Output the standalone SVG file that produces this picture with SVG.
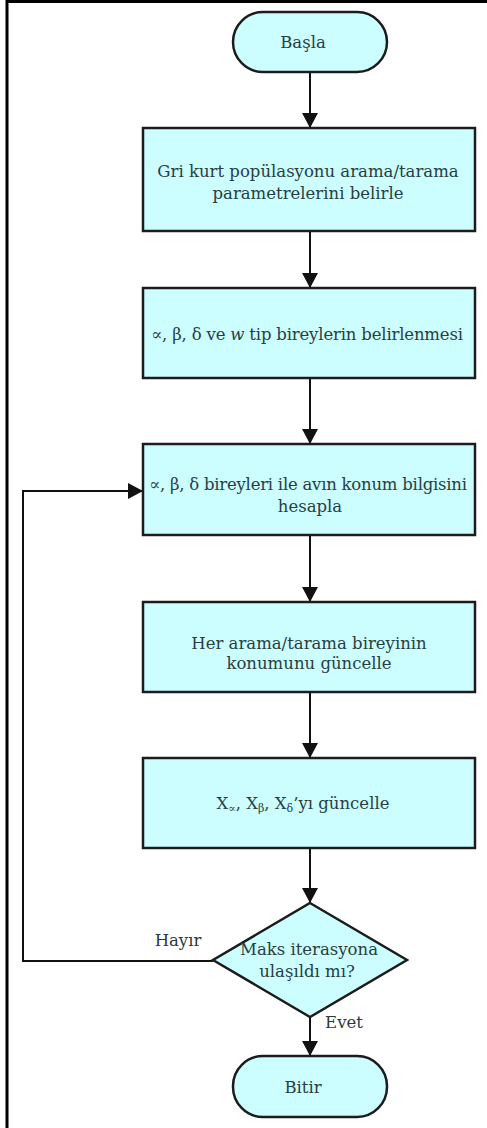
<svg xmlns="http://www.w3.org/2000/svg" width="487" height="1128" viewBox="0 0 487 1128">
<style>
.node{fill:#ccfdff;stroke:#1c1c1c;stroke-width:2.5}
.t{font-family:"DejaVu Serif","Liberation Serif",serif;font-size:16.5px;fill:#27403f;text-anchor:middle}
.lbl{font-family:"DejaVu Serif","Liberation Serif",serif;font-size:16.5px;fill:#2b3a3c;text-anchor:middle}
.c{fill:none;stroke:#111;stroke-width:2}
.sub{font-size:11px}
</style>
<defs>
<marker id="ah" markerUnits="userSpaceOnUse" markerWidth="17" markerHeight="17" refX="15" refY="8" orient="auto">
<path d="M0,0 L15,8 L0,16 Z" fill="#111"/>
</marker>
</defs>
<rect width="487" height="1128" fill="#fff"/>
<g id="frame">
<line x1="7" y1="0" x2="7" y2="1128" stroke="#000" stroke-width="3"/>
<line x1="7" y1="1.5" x2="487" y2="1.5" stroke="#000" stroke-width="3"/>
</g>
<g id="connectors">
<line class="c" x1="310" y1="72" x2="310" y2="128" marker-end="url(#ah)"/>
<line class="c" x1="310" y1="231" x2="310" y2="288" marker-end="url(#ah)"/>
<line class="c" x1="310" y1="378" x2="310" y2="444" marker-end="url(#ah)"/>
<line class="c" x1="310" y1="535" x2="310" y2="602" marker-end="url(#ah)"/>
<line class="c" x1="310" y1="692" x2="310" y2="758" marker-end="url(#ah)"/>
<line class="c" x1="310" y1="848" x2="310" y2="903" marker-end="url(#ah)"/>
<line class="c" x1="310" y1="1017" x2="310" y2="1056" marker-end="url(#ah)"/>
<polyline class="c" points="213,961 23,961 23,491 143,491" marker-end="url(#ah)"/>
<text class="lbl" x="178" y="946">Hayır</text>
<text class="lbl" x="344" y="1028">Evet</text>
</g>
<g id="start">
<rect class="node" x="233" y="12" width="154" height="60" rx="30" ry="30"/>
<text class="t" x="303" y="48">Başla</text>
</g>
<g id="n1">
<rect class="node" x="143" y="128" width="332" height="103"/>
<text class="t" x="308" y="177">Gri kurt popülasyonu arama/tarama</text>
<text class="t" x="308" y="199">parametrelerini belirle</text>
</g>
<g id="n2">
<rect class="node" x="143" y="288" width="332" height="90"/>
<text class="t" x="307" y="340" textLength="312" lengthAdjust="spacing">∝, β, δ ve <tspan font-style="italic">w</tspan> tip bireylerin belirlenmesi</text>
</g>
<g id="n3">
<rect class="node" x="143" y="444" width="332" height="91"/>
<text class="t" x="308" y="490" textLength="318" lengthAdjust="spacing">∝, β, δ bireyleri ile avın konum bilgisini</text>
<text class="t" x="310" y="512">hesapla</text>
</g>
<g id="n4">
<rect class="node" x="143" y="602" width="332" height="90"/>
<text class="t" x="309" y="649">Her arama/tarama bireyinin</text>
<text class="t" x="309" y="669">konumunu güncelle</text>
</g>
<g id="n5">
<rect class="node" x="143" y="758" width="332" height="90"/>
<text class="t" x="303" y="809">X<tspan class="sub" dy="3">∝</tspan><tspan dy="-3">, X</tspan><tspan class="sub" dy="3">β</tspan><tspan dy="-3">, X</tspan><tspan class="sub" dy="3">δ</tspan><tspan dy="-3">’yı güncelle</tspan></text>
</g>
<g id="decision">
<polygon class="node" points="310,903 407,960 310,1017 213,960"/>
<text class="t" x="309" y="955">Maks iterasyona</text>
<text class="t" x="307" y="977">ulaşıldı mı?</text>
</g>
<g id="end">
<rect class="node" x="233" y="1056" width="154" height="61" rx="30" ry="30"/>
<text class="t" x="303" y="1093">Bitir</text>
</g>
</svg>
